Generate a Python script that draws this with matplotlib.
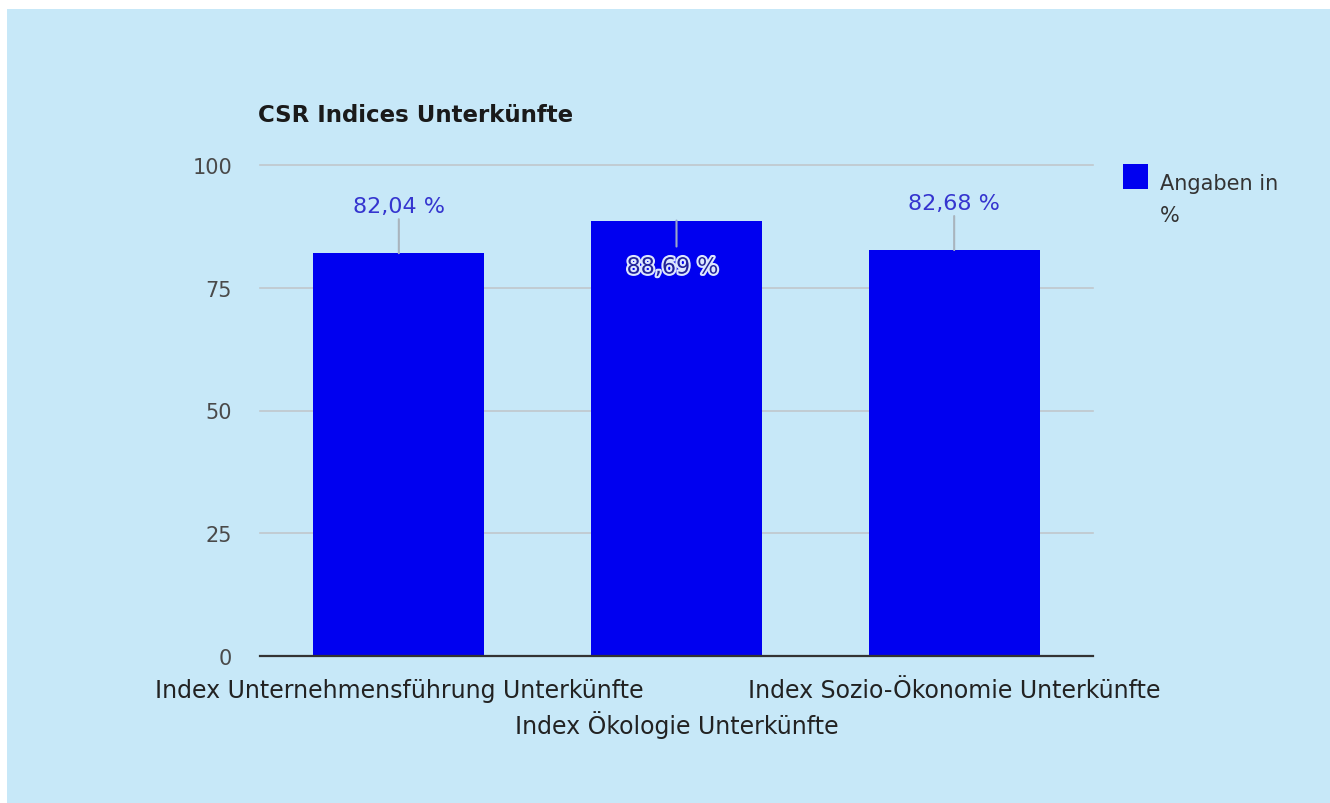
import matplotlib
matplotlib.use("Agg")
import matplotlib.pyplot as plt
from matplotlib.patches import Rectangle
import matplotlib.patheffects as pe

# Data
categories = [
    "Index Unternehmensführung Unterkünfte",
    "Index Ökologie Unterkünfte",
    "Index Sozio-Ökonomie Unterkünfte",
]
values = [82.04, 88.69, 82.68]
value_labels = ["82,04 %", "88,69 %", "82,68 %"]
y_ticks = [0, 25, 50, 75, 100]
series_name = "Angaben in\n%"
title = "CSR Indices Unterkünfte"

W, H = 1330, 804
bg = "#c7e8f8"
bar_color = "#0000f0"

plt.rcParams["font.family"] = ["DejaVu Sans"]

fig = plt.figure(figsize=(W / 100, H / 100), dpi=100, facecolor="white")
fig.patches.append(Rectangle((7 / W, 0), 1 - 7 / W, 1 - 10 / H,
                             transform=fig.transFigure, facecolor=bg,
                             edgecolor="none", zorder=-10))

ax = fig.add_axes([260 / W, 1 - 657 / H, (1093 - 260) / W, (657 - 166) / H])
ax.set_facecolor("none")

x = list(range(len(categories)))
ax.bar(x, values, width=0.615, color=bar_color, zorder=3)

ax.set_xlim(-0.5, len(categories) - 0.5)
ax.set_ylim(0, 100)
ax.set_yticks(y_ticks)
ax.set_yticklabels([str(t) for t in y_ticks], fontsize=15, color="#4a4a4a")
ax.tick_params(axis="y", length=0, pad=20)
ax.set_xticks([])
for s in ax.spines.values():
    s.set_visible(False)

for t in y_ticks[1:]:
    ax.axhline(t, color="#c0c7cc", lw=1.2, zorder=1, clip_on=False)
ax.axhline(0, color="#333333", lw=1.6, zorder=4, clip_on=False)

# Category labels, staggered on two rows
for i, c in enumerate(categories):
    off = -34 if i % 2 == 0 else -68
    ax.annotate(c, (i, 0), xytext=(0, off), textcoords="offset pixels",
                ha="center", va="center", fontsize=17, color="#222222",
                annotation_clip=False)

# Value labels with leader lines
for i, (v, lab) in enumerate(zip(values, value_labels)):
    if i == 1:
        ax.annotate("", (i, v), xytext=(0, -26), textcoords="offset pixels",
                    arrowprops=dict(arrowstyle="-", color="#9aa6c8", lw=1.5,
                                    shrinkA=0, shrinkB=0), zorder=5)
        t = ax.annotate(lab, (i, v), xytext=(-4, -47), textcoords="offset pixels",
                        ha="center", va="center", fontsize=16, color="#22229a",
                        zorder=6, annotation_clip=False)
        t.set_path_effects([pe.withStroke(linewidth=3, foreground="#dde6ff")])
    else:
        ax.annotate("", (i, v), xytext=(0, 34), textcoords="offset pixels",
                    arrowprops=dict(arrowstyle="-", color="#a9b4bd", lw=1.5,
                                    shrinkA=0, shrinkB=0), zorder=5)
        ax.annotate(lab, (i, v), xytext=(0, 47), textcoords="offset pixels",
                    ha="center", va="center", fontsize=16, color="#3535cf",
                    annotation_clip=False)

fig.text(258 / W, 1 - 115 / H, title, ha="left", va="center",
         fontsize=16.5, fontweight="bold", color="#1a1a1a")

# Legend: colour swatch and series name
fig.patches.append(Rectangle((1123 / W, 1 - 190 / H), 25 / W, 25 / H,
                             transform=fig.transFigure, facecolor=bar_color,
                             edgecolor="none"))
fig.text(1160 / W, 1 - 174 / H, series_name, ha="left", va="top",
         fontsize=15, color="#333333", linespacing=1.75)

fig.savefig("out.png", dpi=100, facecolor=fig.get_facecolor())
